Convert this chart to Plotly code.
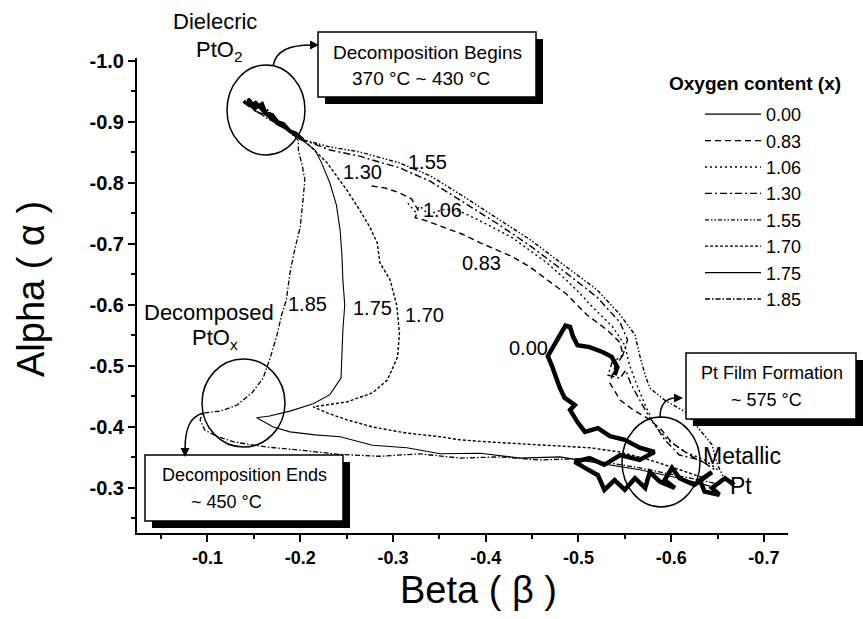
import plotly.graph_objects as go

# ---------------- data ----------------
X_TICKS = [-0.1, -0.2, -0.3, -0.4, -0.5, -0.6, -0.7]
X_TICK_TEXT = ["-0.1", "-0.2", "-0.3", "-0.4", "-0.5", "-0.6", "-0.7"]
Y_TICKS = [-1.0, -0.9, -0.8, -0.7, -0.6, -0.5, -0.4, -0.3]
Y_TICK_TEXT = ["-1.0", "-0.9", "-0.8", "-0.7", "-0.6", "-0.5", "-0.4", "-0.3"]

SERIES = ["0.00", "0.83", "1.06", "1.30", "1.55", "1.70", "1.75", "1.85"]

beta_000 = [-0.668, -0.658, -0.644, -0.652, -0.636, -0.631, -0.644, -0.625, -0.609, -0.601,
            -0.593, -0.604, -0.588, -0.577, -0.572, -0.561, -0.550, -0.539, -0.528, -0.521,
            -0.507, -0.496, -0.512, -0.528, -0.545, -0.566, -0.582, -0.566, -0.550, -0.534,
            -0.521, -0.507, -0.499, -0.491, -0.496, -0.485, -0.480, -0.476, -0.471, -0.467,
            -0.472, -0.478, -0.483, -0.486, -0.491, -0.494, -0.499, -0.512, -0.526, -0.536,
            -0.542, -0.539]
alpha_000 = [-0.305, -0.316, -0.300, -0.289, -0.294, -0.313, -0.326, -0.305, -0.316, -0.333,
             -0.313, -0.300, -0.310, -0.326, -0.300, -0.316, -0.297, -0.313, -0.297, -0.321,
             -0.333, -0.343, -0.349, -0.338, -0.354, -0.346, -0.359, -0.366, -0.379, -0.385,
             -0.398, -0.392, -0.408, -0.428, -0.436, -0.448, -0.464, -0.482, -0.502, -0.516,
             -0.530, -0.546, -0.559, -0.566, -0.564, -0.549, -0.534, -0.531, -0.523, -0.515,
             -0.498, -0.485]

beta_083 = [-0.277, -0.291, -0.307, -0.320, -0.327, -0.324, -0.334, -0.358, -0.375, -0.394,
            -0.429, -0.448, -0.466, -0.487, -0.509, -0.531, -0.545, -0.548, -0.539, -0.534,
            -0.545, -0.559, -0.574, -0.588, -0.601, -0.620, -0.636]
alpha_083 = [-0.795, -0.792, -0.784, -0.774, -0.756, -0.743, -0.739, -0.726, -0.716, -0.702,
             -0.679, -0.662, -0.641, -0.618, -0.584, -0.559, -0.538, -0.518, -0.497, -0.472,
             -0.444, -0.428, -0.415, -0.398, -0.374, -0.354, -0.341]

beta_106 = [-0.316, -0.324, -0.329, -0.338, -0.356, -0.372, -0.394, -0.429, -0.466, -0.487,
            -0.501, -0.515, -0.537, -0.550, -0.555, -0.563, -0.572, -0.582, -0.596, -0.615,
            -0.636, -0.650]
alpha_106 = [-0.767, -0.753, -0.762, -0.749, -0.757, -0.754, -0.738, -0.710, -0.669, -0.641,
             -0.620, -0.597, -0.564, -0.534, -0.502, -0.469, -0.436, -0.403, -0.379, -0.359,
             -0.346, -0.330]

beta_130 = [-0.139, -0.146, -0.144, -0.152, -0.159, -0.163, -0.170, -0.176, -0.182, -0.189,
            -0.195, -0.203, -0.232, -0.264, -0.286, -0.307, -0.340, -0.375, -0.412, -0.448,
            -0.483, -0.520, -0.545, -0.553, -0.548, -0.536, -0.532, -0.545, -0.551, -0.557,
            -0.566, -0.575, -0.584, -0.593, -0.609, -0.631, -0.647]
alpha_130 = [-0.934, -0.926, -0.938, -0.923, -0.930, -0.915, -0.912, -0.900, -0.897, -0.885,
             -0.882, -0.871, -0.854, -0.844, -0.834, -0.825, -0.803, -0.769, -0.734, -0.697,
             -0.657, -0.613, -0.571, -0.543, -0.518, -0.505, -0.485, -0.480, -0.493, -0.469,
             -0.444, -0.420, -0.400, -0.379, -0.354, -0.346, -0.330]

beta_155 = [-0.146, -0.152, -0.160, -0.166, -0.175, -0.185, -0.195, -0.203, -0.232, -0.264,
            -0.307, -0.340, -0.375, -0.412, -0.448, -0.483, -0.520, -0.545, -0.561, -0.566,
            -0.572, -0.577, -0.593, -0.615, -0.631, -0.644, -0.650, -0.658]
alpha_155 = [-0.926, -0.932, -0.918, -0.912, -0.898, -0.890, -0.878, -0.871, -0.859, -0.851,
             -0.833, -0.812, -0.779, -0.743, -0.707, -0.667, -0.625, -0.584, -0.551, -0.518,
             -0.485, -0.464, -0.444, -0.425, -0.395, -0.371, -0.338, -0.313]

beta_170 = [-0.150, -0.158, -0.165, -0.172, -0.180, -0.190, -0.200, -0.207, -0.229, -0.250,
            -0.264, -0.275, -0.283, -0.286, -0.297, -0.304, -0.307, -0.305, -0.294, -0.278,
            -0.250, -0.214, -0.229, -0.250, -0.278, -0.315, -0.351, -0.372, -0.408, -0.444,
            -0.480, -0.512, -0.545, -0.577, -0.609, -0.636]
alpha_170 = [-0.920, -0.912, -0.920, -0.905, -0.895, -0.885, -0.873, -0.866, -0.833, -0.789,
             -0.756, -0.728, -0.702, -0.669, -0.641, -0.600, -0.554, -0.515, -0.477, -0.456,
             -0.441, -0.433, -0.423, -0.412, -0.400, -0.390, -0.384, -0.379, -0.375, -0.372,
             -0.369, -0.366, -0.359, -0.346, -0.330, -0.316]

beta_175 = [-0.144, -0.152, -0.161, -0.170, -0.181, -0.193, -0.203, -0.205, -0.216, -0.223,
            -0.232, -0.239, -0.243, -0.245, -0.246, -0.248, -0.246, -0.245, -0.244, -0.232,
            -0.214, -0.189, -0.167, -0.153, -0.171, -0.189, -0.216, -0.243, -0.278, -0.315,
            -0.351, -0.394, -0.437, -0.480, -0.523, -0.566, -0.609, -0.642]
alpha_175 = [-0.928, -0.917, -0.913, -0.902, -0.892, -0.880, -0.869, -0.867, -0.854, -0.833,
             -0.800, -0.764, -0.723, -0.682, -0.641, -0.600, -0.559, -0.518, -0.480, -0.453,
             -0.438, -0.426, -0.418, -0.415, -0.400, -0.392, -0.387, -0.384, -0.370, -0.366,
             -0.356, -0.357, -0.349, -0.351, -0.341, -0.330, -0.316, -0.303]

beta_185 = [-0.148, -0.156, -0.164, -0.176, -0.188, -0.198, -0.198, -0.202, -0.205, -0.203,
            -0.200, -0.194, -0.189, -0.185, -0.180, -0.175, -0.168, -0.160, -0.148, -0.132,
            -0.114, -0.095, -0.092, -0.097, -0.111, -0.130, -0.164, -0.200, -0.243, -0.286,
            -0.329, -0.372, -0.415, -0.458, -0.501, -0.534, -0.566, -0.598, -0.631, -0.650]
alpha_185 = [-0.924, -0.915, -0.906, -0.897, -0.884, -0.870, -0.854, -0.830, -0.805, -0.772,
             -0.728, -0.690, -0.653, -0.608, -0.584, -0.551, -0.515, -0.480, -0.456, -0.436,
             -0.426, -0.423, -0.412, -0.395, -0.384, -0.375, -0.367, -0.362, -0.355, -0.352,
             -0.356, -0.349, -0.351, -0.346, -0.348, -0.341, -0.333, -0.323, -0.313, -0.307]

BETA = [beta_000, beta_083, beta_106, beta_130, beta_155, beta_170, beta_175, beta_185]
ALPHA = [alpha_000, alpha_083, alpha_106, alpha_130, alpha_155, alpha_170, alpha_175, alpha_185]

# ---------------- styles ----------------
DASHES = ["solid", "6px,4px", "2px,3px", "7px,3px,2px,3px", "4px,2px,1.5px,2px,1.5px,2px",
          "3px,2px", "solid", "5px,2px,1.5px,2px"]
WIDTHS = [4.5, 1.4, 1.4, 1.4, 1.4, 1.4, 1.1, 1.3]
FONT = "Arial, Liberation Sans, sans-serif"

fig = go.Figure()
for name, xs, ys, dash, w in zip(SERIES, BETA, ALPHA, DASHES, WIDTHS):
    fig.add_trace(go.Scatter(x=xs, y=ys, mode="lines", name=name, showlegend=False,
                             legendgroup=name, line=dict(color="black", width=w, dash=dash)))
# heavy noisy dielectric cluster at the start of the high-oxygen runs
for name, xs, ys, n in [("1.30", beta_130, alpha_130, 12), ("1.55", beta_155, alpha_155, 8)]:
    fig.add_trace(go.Scatter(x=xs[:n], y=ys[:n], mode="lines", showlegend=False,
                             legendgroup=name, hoverinfo="skip",
                             line=dict(color="black", width=3.5)))
# legend entries
for name, dash in zip(SERIES, DASHES):
    fig.add_trace(go.Scatter(x=[None], y=[None], mode="lines", name=name, legendgroup=name,
                             line=dict(color="black", width=1.3, dash=dash)))

W, H = 863, 619
L, R, T, B = 137, 788, 58, 533


def fx(p):
    return (p - L) / (R - L)


def fy(p):
    return (B - p) / (B - T)


shapes = []
annotations = []


def box(x0, y0, x1, y1):
    shapes.append(dict(type="rect", xref="paper", yref="paper", x0=fx(x0 + 7), x1=fx(x1 + 7),
                       y0=fy(y0 + 7), y1=fy(y1 + 7), fillcolor="black", line=dict(width=0)))
    shapes.append(dict(type="rect", xref="paper", yref="paper", x0=fx(x0), x1=fx(x1),
                       y0=fy(y0), y1=fy(y1), fillcolor="white", line=dict(color="black", width=1.5)))


def text(s, x, y, size, xanchor="center", bold=False, angle=0):
    annotations.append(dict(text=s, x=fx(x), y=fy(y), xref="paper", yref="paper",
                            showarrow=False, xanchor=xanchor, yanchor="middle", textangle=angle,
                            font=dict(family=FONT, size=size, color="black",
                                      weight="bold" if bold else "normal")))


def circle(x0, y0, x1, y1):
    shapes.append(dict(type="circle", xref="paper", yref="paper", x0=fx(x0), x1=fx(x1),
                       y0=fy(y0), y1=fy(y1), line=dict(color="black", width=1.5)))


def curve(pts):
    d = "M{},{} C{},{} {},{} {},{}".format(*[v for p in pts for v in (fx(p[0]), fy(p[1]))])
    shapes.append(dict(type="path", xref="paper", yref="paper", path=d,
                       line=dict(color="black", width=1.5)))


def head(x, y, ax, ay):
    annotations.append(dict(text="", x=fx(x), y=fy(y), xref="paper", yref="paper",
                            showarrow=True, ax=ax, ay=ay, arrowhead=2, arrowsize=1.2,
                            arrowwidth=1.5, arrowcolor="black"))


# boxes
box(318, 32, 536, 97)
box(145, 455, 343, 521)
box(686, 353, 856, 419)
text("Decomposition Begins", 427, 52, 19)
text("370 °C ~ 430 °C", 421, 78, 19)
text("Decomposition Ends", 244, 475, 18)
text("~ 450 °C", 226, 502, 18)
text("Pt Film Formation", 772, 373, 18)
text("~ 575 °C", 766, 400, 18)

# circles
circle(227, 65, 305, 155)
circle(202, 359, 285, 447)
circle(622, 417, 700, 507)

# arrows
curve([(273, 66), (276, 50), (290, 45), (312, 45)])
head(319, 45, -10, 0)
curve([(203, 413), (190, 417), (185, 428), (185, 450)])
head(185, 457, 0, -10)
curve([(660, 418), (660, 405), (665, 398), (676, 398)])
head(683, 398, -10, 0)

# region labels
text("Dielecric", 215, 22, 22)
text("PtO<sub>2</sub>", 219, 51, 22)
text("Decomposed", 209, 312, 22)
text("PtO<sub>x</sub>", 215, 339, 22)
text("Metallic", 742, 456, 23)
text("Pt", 741, 486, 23)

# curve labels
for s, x, y in [("1.55", 427, 162), ("1.30", 362, 172), ("1.06", 442, 210), ("0.83", 481, 263),
                ("1.85", 307, 304), ("1.75", 372, 308), ("1.70", 424, 315), ("0.00", 528, 348)]:
    text(s, x, y, 20)

# axis titles and legend title
text("Alpha ( α )", 31, 289, 38, angle=-90)
text("Beta ( β )", 479, 590, 38)
text("Oxygen content (x)", 755, 83, 19, bold=True)

fig.update_layout(
    width=W, height=H,
    margin=dict(l=L, r=W - R, t=T, b=H - B, pad=0),
    paper_bgcolor="white", plot_bgcolor="white",
    font=dict(family=FONT, color="black"),
    showlegend=True,
    legend=dict(x=fx(700), y=fy(96), xanchor="left", yanchor="top",
                bgcolor="rgba(0,0,0,0)", borderwidth=0, itemwidth=56,
                font=dict(family=FONT, size=18, color="black"),
                tracegroupgap=0),
    shapes=shapes,
    annotations=annotations,
)
fig.update_xaxes(range=[-0.024, -0.726], tickvals=X_TICKS, ticktext=X_TICK_TEXT,
                 showgrid=False, zeroline=False, showline=True, linecolor="black", linewidth=2,
                 ticks="outside", ticklen=7, tickwidth=2, tickcolor="black",
                 tickfont=dict(family=FONT, size=18, color="black", weight="bold"),
                 minor=dict(tickvals=[-0.05, -0.15, -0.25, -0.35, -0.45, -0.55, -0.65],
                            ticks="outside", ticklen=4, tickwidth=2, tickcolor="black"))
fig.update_yaxes(range=[-0.2262, -1.0049], tickvals=Y_TICKS, ticktext=Y_TICK_TEXT,
                 showgrid=False, zeroline=False, showline=True, linecolor="black", linewidth=2,
                 ticks="outside", ticklen=7, tickwidth=2, tickcolor="black",
                 tickfont=dict(family=FONT, size=20, color="black", weight="bold"),
                 minor=dict(tickvals=[-0.95, -0.85, -0.75, -0.65, -0.55, -0.45, -0.35, -0.25],
                            ticks="outside", ticklen=4, tickwidth=2, tickcolor="black"))

fig.write_html("out.html", config={"displayModeBar": False},
               post_script="document.body.style.margin='0';")
